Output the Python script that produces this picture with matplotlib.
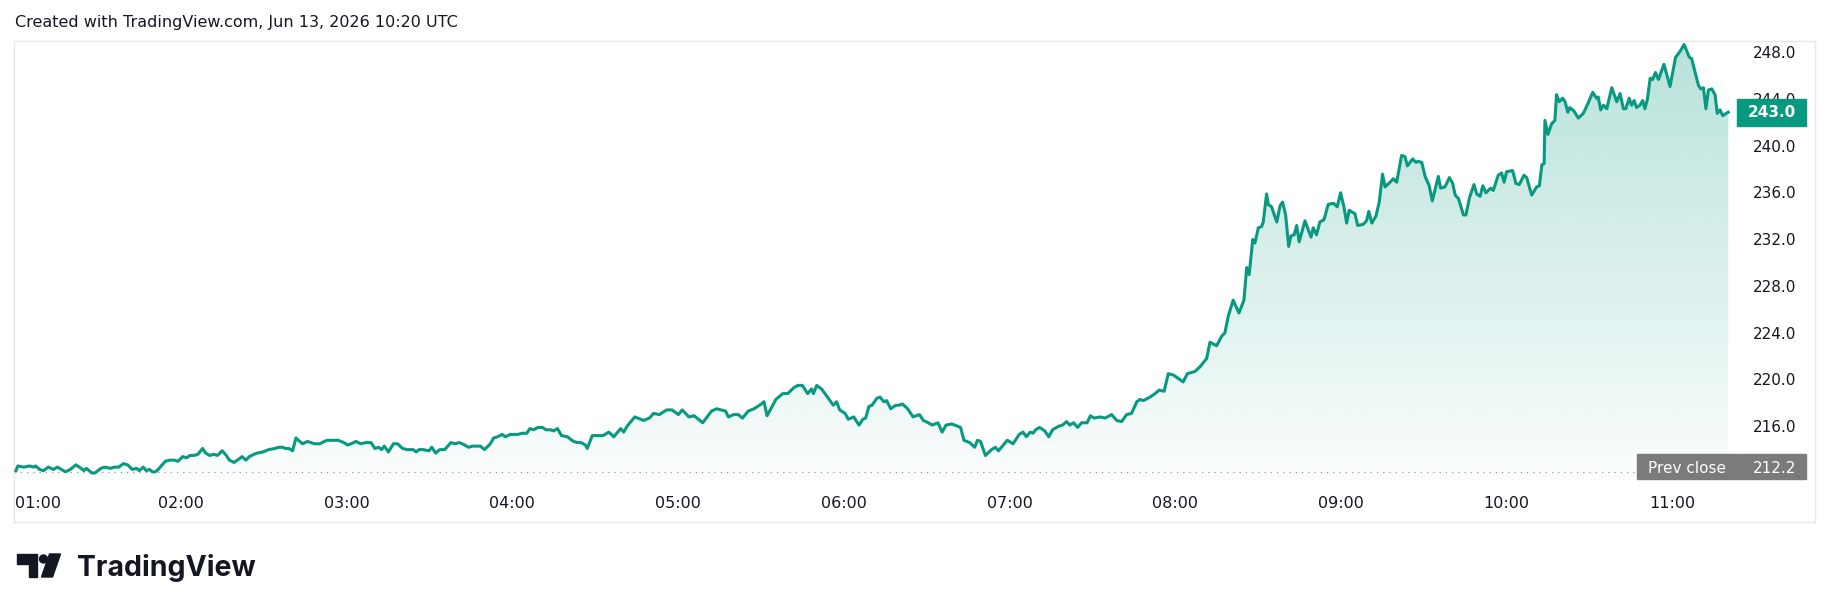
import numpy as np
import matplotlib
matplotlib.use("Agg")
import matplotlib.pyplot as plt
from matplotlib.patches import Rectangle, Polygon, Circle
from matplotlib.transforms import blended_transform_factory

# minuty od 01:00 i cena
minutes = [
    0.2, 0.9, 3.0, 5.2, 6.6, 7.3, 8.8, 10.2, 11.9, 13.8,
    15.2, 16.7, 18.1, 19.9, 21.9, 23.8, 24.8, 25.7, 27.7, 28.8,
    31.0, 32.4, 34.3, 36.0, 37.4, 39.1, 40.6, 42.4, 43.9, 44.9,
    46.3, 47.4, 48.6, 49.6, 50.7, 51.7, 53.2, 54.3, 56.0, 57.5,
    58.9, 60.6, 62.0, 63.2, 64.6, 66.1, 66.8, 67.8, 68.9, 70.4,
    71.8, 73.2, 74.9, 76.4, 77.5, 79.2, 80.4, 82.1, 83.5, 84.7,
    86.4, 87.5, 89.7, 91.8, 94.0, 95.4, 96.8, 97.8, 99.0, 100.4,
    101.6, 102.5, 104.0, 105.8, 108.3, 110.2, 111.9, 113.0, 114.7, 116.9,
    119.0, 120.2, 121.6, 123.3, 125.0, 126.9, 128.8, 130.2, 131.6, 132.6,
    133.6, 135.1, 136.9, 138.4, 140.2, 141.9, 144.1, 145.1, 146.2, 147.7,
    149.8, 150.8, 152.2, 153.7, 155.5, 157.7, 159.1, 160.8, 162.7, 164.1,
    165.6, 168.4, 169.9, 172.0, 173.2, 174.6, 176.3, 177.4, 179.2, 180.6,
    182.0, 183.4, 185.2, 186.3, 187.7, 189.2, 190.9, 192.1, 193.8, 194.9,
    196.3, 197.8, 199.9, 202.1, 203.8, 204.9, 206.4, 207.1, 208.9,
    210.7, 212.8, 214.9, 216.7, 219.2, 220.3, 221.5, 224.3, 227.5, 229.6,
    231.1, 233.2, 235.8, 237.8, 240.1, 241.5, 243.9, 245.8, 248.9, 252.1,
    253.9, 257.2, 258.2, 260.1, 261.8, 263.3, 265.4, 267.5, 270.1, 271.1,
    272.2, 273.6, 275.4, 277.9, 279.7, 281.9, 283.3, 285.0, 286.9, 288.3,
    289.0, 290.2, 291.9, 294.1, 296.2, 297.4, 298.5, 300.5, 301.6, 303.6,
    305.5, 306.9, 307.9, 309.1, 310.2, 312.0, 313.1, 314.5, 315.5, 317.0,
    318.8, 319.8, 321.3, 323.1, 325.1, 327.4, 328.8, 330.6, 332.0, 334.1,
    335.6, 337.0, 339.1, 341.3, 342.3, 343.5, 345.6, 347.4, 348.4, 349.5,
    351.3, 353.5, 354.9, 356.0, 359.2, 361.3, 363.5, 364.9, 366.1, 367.5,
    368.5, 369.5, 370.9, 372.8, 374.2, 375.6, 377.8, 379.2, 380.7, 381.8,
    383.2, 384.7, 386.1, 388.1, 389.3, 390.7,
    392.8, 394.6, 397.0, 398.8, 400.6, 402.4, 404.2, 406.1, 407.3, 408.5,
    410.9, 412.7, 414.2, 416.0, 417.5, 419.3, 421.1, 422.9, 424.4, 427.2,
    429.0, 431.4, 432.6, 435.0, 436.8, 438.0, 439.2, 441.0, 443.1, 444.9,
    445.9, 446.8, 448.1, 448.9, 450.1, 451.3, 451.9, 453.1, 453.7, 454.9,
    456.8, 458.0, 458.9, 460.0, 461.1, 461.9, 463.1, 464.0, 464.9, 467.0,
    469.2, 470.0, 471.2, 472.4, 473.9, 475.4, 477.3, 478.7, 479.9, 481.1,
    482.1, 483.0, 485.1, 486.1, 488.1, 489.3, 490.1, 491.2, 492.7, 493.9,
    495.1, 496.0, 497.8, 499.0, 500.2, 502.0, 503.2, 504.1, 506.0, 507.2,
    508.0, 509.3, 510.5, 512.0, 513.1, 515.3, 516.1, 517.7, 519.3, 520.5,
    521.4, 522.6, 524.4, 525.3, 526.6, 528.2, 529.2, 530.4, 531.4, 532.5,
    534.3, 535.2, 537.0, 538.2, 539.1, 540.0, 542.2, 543.4, 544.6, 546.3,
    547.3, 549.1, 550.9, 551.9, 552.8, 553.6,
    553.9, 555.0, 556.3, 557.5, 558.1, 559.1, 560.3, 561.2, 562.2, 562.9,
    564.4, 566.0, 567.8, 569.2, 571.2, 572.6, 573.2, 574.1, 575.1, 576.3,
    578.1, 579.9, 581.1, 582.3, 583.2, 584.4, 585.3, 586.2, 587.1, 588.3,
    589.3, 590.1, 591.0, 592.0, 592.9, 593.9, 595.0, 597.0, 599.2, 601.2,
    602.8, 604.3, 606.2, 607.0, 609.5, 610.3, 611.3, 612.2, 613.1, 614.3,
    615.5, 616.3, 617.3, 618.3, 619.5, 620.3,
]
price = [
    212.3, 212.7, 212.6, 212.7, 212.6, 212.7, 212.4, 212.3, 212.6, 212.4,
    212.6, 212.4, 212.2, 212.4, 212.8, 212.5, 212.3, 212.5, 212.1, 212.1,
    212.5, 212.6, 212.5, 212.6, 212.6, 212.9, 212.8, 212.4, 212.5, 212.3,
    212.6, 212.3, 212.4, 212.2, 212.2, 212.4, 212.8, 213.1, 213.2, 213.2,
    213.1, 213.5, 213.4, 213.6, 213.6, 213.7, 213.9, 214.2, 213.8, 213.6,
    213.7, 213.6, 214.0, 213.6, 213.2, 213.0, 213.2, 213.5, 213.2, 213.5,
    213.7, 213.8, 213.9, 214.1, 214.2, 214.3, 214.3, 214.2, 214.2, 214.0,
    215.1, 214.9, 214.6, 214.8, 214.6, 214.6, 214.8, 214.9, 214.9, 214.9,
    214.7, 214.5, 214.6, 214.8, 214.6, 214.7, 214.7, 214.2, 214.3, 214.1,
    214.4, 213.9, 214.6, 214.6, 214.2, 214.1, 214.1, 213.9, 214.1, 214.1,
    214.0, 214.3, 213.8, 214.1, 214.1, 214.7, 214.6, 214.7, 214.5, 214.3,
    214.4, 214.4, 214.1, 214.6, 215.1, 215.2, 215.4, 215.2, 215.4, 215.4,
    215.4, 215.5, 215.5, 215.9, 215.8, 216.0, 216.0, 215.8, 215.8, 215.7,
    215.9, 215.3, 215.2, 214.8, 214.7, 214.7, 214.5, 214.2, 215.3,
    215.3, 215.3, 215.6, 215.2, 215.9, 215.6, 216.1, 216.9, 216.6, 216.8,
    217.2, 217.1, 217.5, 217.5, 217.1, 217.5, 216.9, 217.0, 216.4, 217.4,
    217.6, 217.4, 216.9, 217.1, 217.1, 216.8, 217.4, 217.6, 218.0, 218.2,
    217.0, 217.6, 218.4, 218.9, 218.9, 219.4, 219.6, 219.6, 218.9, 219.3,
    218.9, 219.6, 219.3, 218.6, 217.9, 218.2, 217.5, 217.2, 216.7, 216.9,
    216.2, 216.7, 216.8, 217.8, 217.9, 218.5, 218.6, 218.2, 218.3, 217.6,
    217.9, 217.9, 218.0, 217.6, 216.9, 217.1, 216.6, 216.4, 216.2, 216.4,
    215.6, 216.2, 216.3, 216.1, 216.0, 214.9, 214.7, 214.3, 214.9, 214.8,
    213.6, 214.1, 214.3, 214.0, 214.9, 214.6, 215.4, 215.6, 215.2, 215.6,
    215.5, 215.8, 216.0, 215.7, 215.2, 215.8, 216.1, 216.2, 216.5, 216.2,
    216.4, 216.0, 216.4, 216.4, 217.0, 216.8,
    216.9, 216.8, 217.1, 216.6, 216.5, 217.1, 217.2, 218.2, 218.4, 218.3,
    218.6, 218.9, 219.2, 219.1, 220.6, 220.5, 220.2, 219.9, 220.6, 220.8,
    221.2, 221.9, 223.3, 223.0, 223.8, 224.1, 225.5, 226.9, 225.8, 226.9,
    229.7, 229.1, 232.1, 231.8, 233.1, 233.2, 233.6, 236.0, 235.1, 234.9,
    233.6, 235.0, 235.3, 234.2, 231.5, 232.4, 232.5, 233.3, 231.9, 233.7,
    232.3, 233.1, 232.5, 233.6, 233.8, 235.1, 235.2, 234.9, 236.1, 234.9,
    233.5, 234.6, 234.3, 233.3, 233.4, 233.7, 234.5, 233.5, 234.1, 235.3,
    237.7, 236.6, 237.0, 237.3, 237.0, 239.3, 239.2, 238.4, 239.0, 238.7,
    238.8, 238.7, 237.5, 236.7, 235.4, 237.5, 236.5, 236.6, 237.4, 236.9,
    235.9, 235.6, 234.2, 234.2, 235.7, 236.8, 236.0, 235.8, 236.7, 236.1,
    236.5, 236.3, 237.6, 237.8, 237.0, 237.9, 238.0, 236.9, 236.8, 237.6,
    237.4, 235.9, 236.6, 236.7, 238.5, 238.6,
    242.3, 241.1, 242.0, 242.3, 244.5, 243.9, 244.2, 243.9, 243.0, 243.4,
    243.1, 242.5, 242.9, 243.6, 244.7, 244.2, 244.3, 243.2, 243.6, 243.3,
    245.1, 243.9, 244.6, 243.3, 243.3, 244.2, 243.6, 244.0, 243.4, 243.6,
    244.0, 243.3, 244.1, 245.9, 245.8, 246.4, 245.8, 247.1, 245.2, 247.7,
    248.2, 248.8, 247.7, 247.6, 245.3, 245.0, 245.1, 243.3, 244.9, 245.0,
    244.5, 242.9, 243.2, 242.7, 242.9, 243.0,
]
prev_close = 212.2
hour_labels = ["01:00", "02:00", "03:00", "04:00", "05:00", "06:00",
               "07:00", "08:00", "09:00", "10:00", "11:00"]
price_ticks = [216.0, 220.0, 224.0, 228.0, 232.0, 236.0, 240.0, 244.0, 248.0]

W, H = 1830, 611
green = "#089981"
txt = "#131722"

fig = plt.figure(figsize=(W / 100, H / 100), dpi=100)

# ramka wykresu (w pikselach)
L, R, T, B = 14, 1815, 41, 522
ax = fig.add_axes([L / W, 1 - B / H, (R - L) / W, (B - T) / H])
x_lo, x_hi = -0.5, 651.7
y_lo, y_hi = 207.9, 249.1

def fx(px):
    return (px - L) / (R - L)

# wypelnienie gradientem
base = 211.5
poly = ax.fill_between(minutes, price, base, color="none", lw=0)
rgb = matplotlib.colors.to_rgb(green)
grad = np.zeros((256, 1, 4))
grad[..., :3] = rgb
grad[..., 3] = np.linspace(0.02, 0.29, 256)[:, None]
im = ax.imshow(grad, extent=[minutes[0], minutes[-1], base, y_hi],
               origin="lower", aspect="auto", zorder=1, interpolation="bilinear")
im.set_clip_path(poly.get_paths()[0], transform=ax.transData)

ax.plot(minutes, price, color=green, lw=2.2, zorder=3, solid_joinstyle="round")

# linia poprzedniego zamkniecia
ax.axhline(prev_close, xmin=0, xmax=fx(1637), color="#9598a1", lw=0.9,
           linestyle=(0, (1, 4)), zorder=2)

ax.set_xlim(x_lo, x_hi)
ax.set_ylim(y_lo, y_hi)
ax.set_xticks([])
ax.set_yticks([])
for s in ax.spines.values():
    s.set_color("#e8e8e8")
    s.set_linewidth(1)

ty = blended_transform_factory(ax.transAxes, ax.transData)
tx = blended_transform_factory(ax.transData, ax.transAxes)

for v in price_ticks:
    ax.text(fx(1796), v, f"{v:.1f}", transform=ty, ha="right", va="center",
            fontsize=11, color=txt, zorder=4)

for i, lab in enumerate(hour_labels):
    ax.text(i * 60, (B - 503) / (B - T), lab, transform=tx,
            ha="left" if i == 0 else "center", va="center", fontsize=11.5, color=txt)

# etykieta ostatniej ceny
last = price[-1]
ax.add_patch(Rectangle((fx(1737), last - 1.16), fx(1806) - fx(1737), 2.32,
                       transform=ty, color=green, zorder=5, clip_on=False))
ax.text(fx(1796), last, f"{last:.1f}", transform=ty, ha="right", va="center",
        fontsize=11, color="white", fontweight="bold", zorder=6)

# etykieta Prev close
gray = "#7b7b7b"
ax.add_patch(Rectangle((fx(1637), prev_close - 0.62), fx(1736) - fx(1637), 2.14,
                       transform=ty, color=gray, zorder=5, clip_on=False))
ax.add_patch(Rectangle((fx(1737), prev_close - 0.62), fx(1806) - fx(1737), 2.14,
                       transform=ty, color=gray, zorder=5, clip_on=False))
ax.text(fx(1686.5), prev_close + 0.32, "Prev close", transform=ty, ha="center",
        va="center", fontsize=11, color="white", zorder=6)
ax.text(fx(1796), prev_close + 0.32, f"{prev_close:.1f}", transform=ty, ha="right",
        va="center", fontsize=11, color="white", zorder=6)

fig.text(15 / W, 1 - 23 / H, "Created with TradingView.com, Jun 13, 2026 10:20 UTC",
         ha="left", va="center", fontsize=11.5, color=txt)

# logo TradingView
lax = fig.add_axes([0, 0, 1, 1])
lax.set_xlim(0, W)
lax.set_ylim(H, 0)
lax.axis("off")
dark = "#131722"
lax.add_patch(Polygon([(17, 554), (37, 554), (37, 577), (28.5, 577), (28.5, 563.5), (17, 563.5)],
                      closed=True, color=dark))
lax.add_patch(Circle((43.5, 559), 4.0, color=dark))
lax.add_patch(Polygon([(49.5, 554), (60.5, 554), (52.5, 577), (41.5, 577)], closed=True, color=dark))
lax.text(77, 576, "TradingView", ha="left", va="baseline", fontsize=20.5,
         fontweight="bold", family="Inter", color=dark)

fig.savefig("out.png", dpi=100)
